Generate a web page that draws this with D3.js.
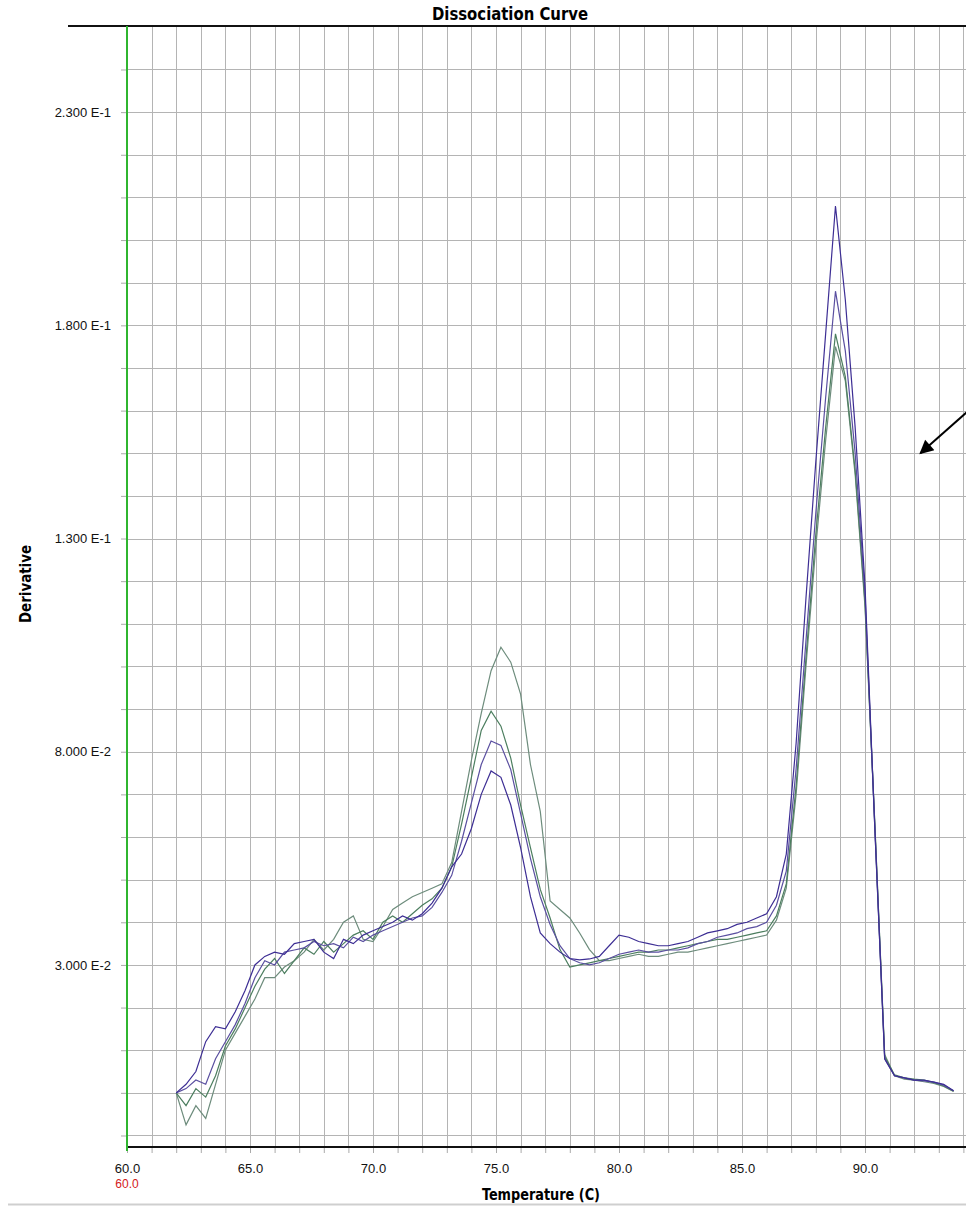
<!DOCTYPE html>
<html>
<head>
<meta charset="utf-8">
<title>Dissociation Curve</title>
<script src="https://cdn.jsdelivr.net/npm/d3@7"></script>
<style>
  body { margin: 0; background: #fff; }
  svg { display: block; }
</style>
</head>
<body>
<div id="chart"></div>
<script>
// temperatures (C) and derivative values, derivative stored in units of 1E-3
var temps = [62.0, 62.4, 62.8, 63.2, 63.6, 64.0, 64.4, 64.8, 65.2, 65.6,
  66.0, 66.4, 66.8, 67.2, 67.6, 68.0, 68.4, 68.8, 69.2, 69.6,
  70.0, 70.4, 70.8, 71.2, 71.6, 72.0, 72.4, 72.8, 73.2, 73.6,
  74.0, 74.4, 74.8, 75.2, 75.6, 76.0, 76.4, 76.8, 77.2, 77.6,
  78.0, 78.4, 78.8, 79.2, 79.6, 80.0, 80.4, 80.8, 81.2, 81.6,
  82.0, 82.4, 82.8, 83.2, 83.6, 84.0, 84.4, 84.8, 85.2, 85.6,
  86.0, 86.4, 86.8, 87.2, 87.6, 88.0, 88.4, 88.8, 89.2, 89.6,
  90.0, 90.4, 90.8, 91.2, 91.6, 92.0, 92.4, 92.8, 93.2, 93.6];

var wellA = [0, 2, 5, 12, 15.5, 15, 19, 24, 30, 32,
  33, 32.5, 35, 35.5, 36, 33, 31.5, 36, 35, 37,
  38, 39, 40, 41.5, 40.5, 42, 44.5, 48, 53, 56,
  62, 70, 75.5, 74, 67.5, 57.5, 46, 37.5, 35, 33,
  31.5, 31.2, 31.4, 32, 34.5, 37, 36.5, 35.5, 35, 34.5,
  34.5, 35, 35.5, 36.5, 37.5, 38, 38.5, 39.5, 40, 41,
  42, 46, 56, 82, 116, 148, 178, 208, 186, 156,
  119, 62, 8, 4, 3.5, 3, 3, 2.5, 2, 0.5];

var wellB = [0, 1, 3, 2, 8, 12, 16, 21, 27, 31,
  30, 33, 33.5, 34, 35.5, 34.5, 35, 34, 36.5, 35.5,
  37, 38, 39, 40, 41, 41.5, 43.5, 47, 51, 59,
  68, 77, 82.5, 81.5, 75.8, 65.5, 55, 46, 39.5, 34.5,
  31.5, 30.5, 30, 30.5, 31.5, 32.5, 33, 33.5, 33, 33,
  33.5, 33.5, 34, 35, 35.5, 36.5, 37, 37.5, 38.5, 39,
  40, 44, 52, 76, 106, 136, 163, 188, 174, 150,
  117, 62, 8, 4, 3.5, 3, 2.8, 2.5, 1.8, 0.5];

var wellC = [0, -7.5, -3, -6, 2, 10, 14, 18, 22, 27,
  27, 29.5, 31, 33, 36, 33.5, 36, 40, 41.5, 36,
  35.5, 39, 43, 44.5, 46, 47, 48, 49, 54, 66,
  78, 89, 99, 104.5, 101, 93.5, 77, 66, 45, 43,
  41, 37.5, 33.6, 31, 31, 31.5, 32, 32.5, 32, 32,
  32.5, 33, 33, 33.5, 34, 34.5, 35, 35.5, 36, 36.5,
  37, 40.5, 48, 70, 100, 128, 153, 175, 167, 145,
  114, 63, 9, 4, 3.2, 3, 2.6, 2.2, 1.5, 0.3];

var wellD = [0, -3, 1, -1, 4, 11, 15, 20, 25, 29,
  31.5, 28, 31, 34, 32.5, 35.5, 33, 35, 37, 38,
  36, 40, 41.5, 40, 42, 44, 45.5, 48, 53, 63,
  74, 85, 89.5, 86, 78.5, 67.5, 57.5, 47.7, 41, 33.6,
  29.5, 30, 30.5, 31, 31.5, 32, 32.5, 33, 33, 33.5,
  33.5, 34, 34.5, 35, 35.5, 36, 36, 36.5, 37, 37.5,
  38, 41.5, 49, 72, 102, 131, 156, 178, 168, 146,
  115, 63, 8.5, 4.2, 3.5, 3.2, 3, 2.4, 1.6, 0.4];

var wellColors = ["#6d8c7c", "#4c7e5f", "#5a4fa0", "#3d2e94"];

var xTickValues = [60, 65, 70, 75, 80, 85, 90];
var xTickLabels = ["60.0", "65.0", "70.0", "75.0", "80.0", "85.0", "90.0"];
var yTickValues = [30, 80, 130, 180, 230];
var yTickLabels = ["3.000 E-2", "8.000 E-2", "1.300 E-1", "1.800 E-1", "2.300 E-1"];

// arrow annotation (temperature, derivative)
var arrowFrom = [94.7, 162.5];
var arrowTo = [92.25, 150];

var width = 966, height = 1206;
var plotLeft = 127, plotTop = 26, plotBottom = 1147;

var svg = d3.select("#chart").append("svg")
  .attr("width", width).attr("height", height)
  .style("font-family", "'Liberation Sans', Arial, sans-serif");

svg.append("rect").attr("width", width).attr("height", height).attr("fill", "#fff");

var xScale = d3.scaleLinear().domain([60, 95]).range([plotLeft, plotLeft + 35 * 24.6]);
var yScale = d3.scaleLinear().domain([-12.7, 250.2]).range([plotBottom, plotTop]);

// grid
var gx = svg.append("g").attr("transform", "translate(0," + plotBottom + ")")
  .call(d3.axisBottom(xScale).tickValues(d3.range(61, 95)).tickSize(-(plotBottom - plotTop)).tickFormat(""));
gx.select(".domain").remove();
gx.selectAll("line").attr("stroke", "#b4b4b4").attr("shape-rendering", "crispEdges");

var gy = svg.append("g").attr("transform", "translate(" + plotLeft + ",0)")
  .call(d3.axisLeft(yScale).tickValues(d3.range(-10, 250, 10)).tickSize(-(width - plotLeft)).tickFormat(""));
gy.select(".domain").remove();
gy.selectAll("line").attr("stroke", "#b4b4b4").attr("shape-rendering", "crispEdges");

// small ticks + labels
var xAxis = svg.append("g").attr("transform", "translate(0," + plotBottom + ")")
  .call(d3.axisBottom(xScale).tickValues(d3.range(60, 95)).tickSize(6).tickPadding(11)
    .tickFormat(function (d) {
      var i = xTickValues.indexOf(d);
      return i < 0 ? "" : xTickLabels[i];
    }));
xAxis.select(".domain").remove();
xAxis.selectAll("line").attr("stroke", "#aaa");
xAxis.selectAll("text").attr("font-size", 13).attr("fill", "#111")
  .style("font-family", "'Liberation Sans', Arial, sans-serif");

var yAxis = svg.append("g").attr("transform", "translate(" + plotLeft + ",0)")
  .call(d3.axisLeft(yScale).tickValues(d3.range(-10, 250, 10)).tickSize(6).tickPadding(10)
    .tickFormat(function (d) {
      var i = yTickValues.indexOf(d);
      return i < 0 ? "" : yTickLabels[i];
    }));
yAxis.select(".domain").remove();
yAxis.selectAll("line").attr("stroke", "#aaa");
yAxis.selectAll("text").attr("font-size", 13).attr("fill", "#111")
  .style("font-family", "'Liberation Sans', Arial, sans-serif");

// second (red) start label under 60.0
svg.append("text").attr("x", xScale(60)).attr("y", 1188)
  .attr("text-anchor", "middle").attr("font-size", 12).attr("fill", "#d42020")
  .text(xTickLabels[0]);

// frame lines
svg.append("line").attr("x1", 68).attr("x2", width).attr("y1", plotTop).attr("y2", plotTop)
  .attr("stroke", "#111").attr("stroke-width", 2);
svg.append("line").attr("x1", plotLeft).attr("x2", width).attr("y1", plotBottom).attr("y2", plotBottom)
  .attr("stroke", "#111").attr("stroke-width", 2);
svg.append("line").attr("x1", plotLeft).attr("x2", plotLeft).attr("y1", plotTop).attr("y2", plotBottom + 4)
  .attr("stroke", "#2fb52f").attr("stroke-width", 2);

// curves
var line = d3.line()
  .x(function (d) { return xScale(d[0]); })
  .y(function (d) { return yScale(d[1]); });

[wellC, wellD, wellB, wellA].forEach(function (vals, i) {
  svg.append("path")
    .datum(temps.map(function (t, j) { return [t, vals[j]]; }))
    .attr("d", line)
    .attr("fill", "none")
    .attr("stroke", wellColors[i])
    .attr("stroke-width", 1.2);
});

// arrow
svg.append("defs").append("marker")
  .attr("id", "head").attr("viewBox", "0 0 10 10")
  .attr("refX", 9).attr("refY", 5)
  .attr("markerWidth", 8).attr("markerHeight", 7)
  .attr("markerUnits", "strokeWidth")
  .attr("orient", "auto")
  .append("path").attr("d", "M0,0 L10,5 L0,10 z").attr("fill", "#000");
svg.append("line")
  .attr("x1", xScale(arrowFrom[0])).attr("y1", yScale(arrowFrom[1]))
  .attr("x2", xScale(arrowTo[0])).attr("y2", yScale(arrowTo[1]))
  .attr("stroke", "#000").attr("stroke-width", 2)
  .attr("marker-end", "url(#head)");

// titles
var narrow = "'Liberation Sans Narrow', 'Arial Narrow', 'DejaVu Sans Condensed', sans-serif";
svg.append("text").attr("x", 510).attr("y", 20)
  .attr("text-anchor", "middle").attr("font-size", 18).attr("font-weight", "bold")
  .attr("textLength", 156).attr("lengthAdjust", "spacingAndGlyphs")
  .style("font-family", narrow)
  .text("Dissociation Curve");

svg.append("text").attr("transform", "translate(31,584) rotate(-90)")
  .attr("text-anchor", "middle").attr("font-size", 16).attr("font-weight", "bold")
  .attr("textLength", 78).attr("lengthAdjust", "spacingAndGlyphs")
  .style("font-family", narrow)
  .text("Derivative");

svg.append("text").attr("x", 541).attr("y", 1200)
  .attr("text-anchor", "middle").attr("font-size", 16).attr("font-weight", "bold")
  .attr("textLength", 118).attr("lengthAdjust", "spacingAndGlyphs")
  .style("font-family", narrow)
  .text("Temperature (C)");

// bottom window border
svg.append("line").attr("x1", 8).attr("x2", width).attr("y1", 1204.5).attr("y2", 1204.5)
  .attr("stroke", "#cfcfcf").attr("stroke-width", 2);
</script>
</body>
</html>
